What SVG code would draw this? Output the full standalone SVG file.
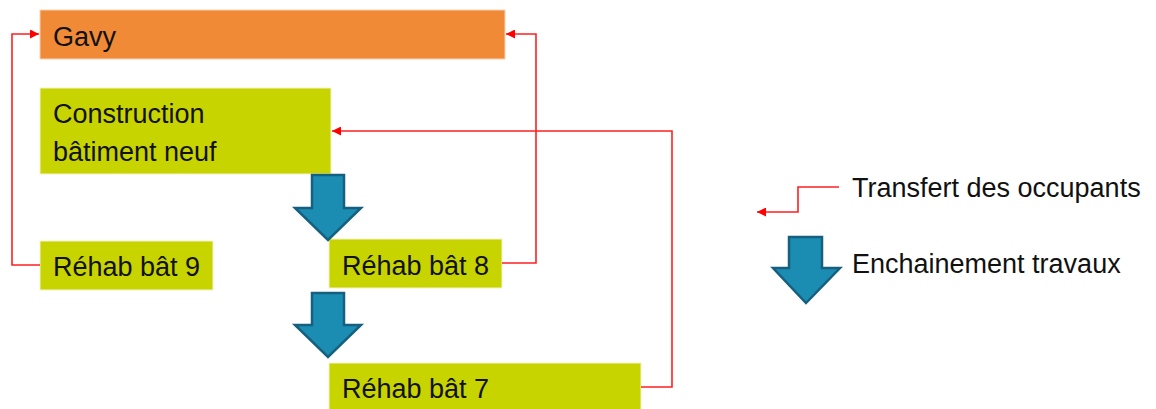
<svg xmlns="http://www.w3.org/2000/svg" width="1156" height="409" viewBox="0 0 1156 409">
<defs>
<style>
.box{stroke:#f2f2c8;stroke-width:1}
.orange{fill:#F08A36;stroke:#f8d2b0}
.green{fill:#C8D400}
.lbl{font-family:"Liberation Sans",Arial,sans-serif;font-size:27px;fill:#111}
.conn{fill:none;stroke:#FF2020;stroke-width:1.6}
.big{fill:#1B8DB3;stroke:#16607F;stroke-width:2.5;stroke-linejoin:miter}
</style>
<marker id="ah" viewBox="0 0 10 10" refX="10" refY="5" markerWidth="6" markerHeight="6" markerUnits="userSpaceOnUse" orient="auto">
<path d="M0,0 L10,5 L0,10 z" fill="#FF0000"/>
</marker>
<marker id="ahl" viewBox="0 0 10 10" refX="10" refY="5" markerWidth="9" markerHeight="9" orient="auto" markerUnits="userSpaceOnUse">
<path d="M0,0 L10,5 L0,10 z" fill="#FF0000"/>
</marker>
</defs>
<rect width="1156" height="409" fill="#ffffff"/>

<g id="gavy">
<rect class="box orange" x="40" y="10" width="465" height="49"/>
<text class="lbl" x="53" y="46">Gavy</text>
</g>
<g id="construction">
<rect class="box green" x="40" y="88" width="291" height="86"/>
<text class="lbl" x="53" y="123">Construction</text>
<text class="lbl" x="53" y="161">bâtiment neuf</text>
</g>
<g id="rehab9">
<rect class="box green" x="40" y="241" width="173" height="49"/>
<text class="lbl" x="53" y="276">Réhab bât 9</text>
</g>
<g id="rehab8">
<rect class="box green" x="329" y="239" width="173" height="49"/>
<text class="lbl" x="342" y="275">Réhab bât 8</text>
</g>
<g id="rehab7">
<rect class="box green" x="329" y="363" width="312" height="50"/>
<text class="lbl" x="342" y="398">Réhab bât 7</text>
</g>

<g id="connectors">
<path class="conn" d="M40,265 H12 V34 H39" marker-end="url(#ahl)"/>
<path class="conn" d="M502,263 H536 V34 H506" marker-end="url(#ahl)"/>
<path class="conn" d="M641,387 H672 V131 H332" marker-end="url(#ahl)"/>
<path class="big" d="M312,175 H344 V208 H361 L328,240 L295,208 H312 Z"/>
<path class="big" d="M312,293 H344 V325 H361 L328,357 L295,325 H312 Z"/>
</g>

<g id="legend">
<path class="conn" d="M839,187 H798 V212 H757" marker-end="url(#ahl)"/>
<text class="lbl" x="852" y="197">Transfert des occupants</text>
<path class="big" d="M789,237 H822 V268 H840 L806,303 L773,268 H789 Z"/>
<text class="lbl" x="852" y="273">Enchainement travaux</text>
</g>
</svg>
